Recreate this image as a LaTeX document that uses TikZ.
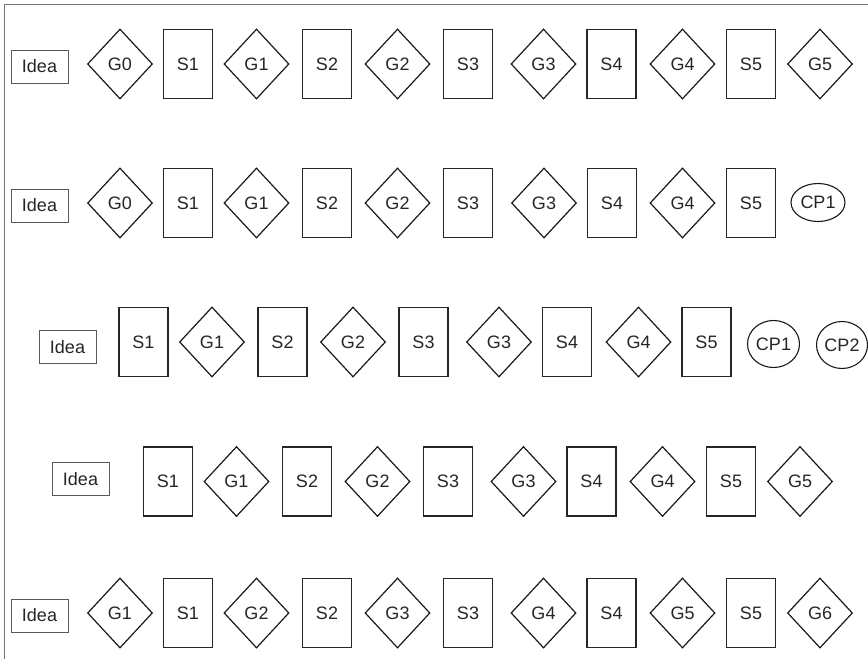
\documentclass[tikz,border=0pt]{standalone}
\usepackage{fontspec}
\setmainfont{Liberation Sans}
\usetikzlibrary{shapes.geometric}
\tikzset{
  stepbox/.style={draw=black!85, line width=1.2pt, rectangle, minimum width=49pt, minimum height=69pt, inner sep=0pt, font=\fontsize{18}{20}\selectfont, text=black!85},
  gate/.style={draw=black!90, line width=1.2pt, diamond, minimum width=65pt, minimum height=70pt, inner sep=0pt, font=\fontsize{18}{20}\selectfont, text=black!85},
  ideabox/.style={draw=black!65, line width=0.8pt, rectangle, minimum width=57pt, minimum height=33pt, inner sep=0pt, font=\fontsize{18}{20}\selectfont, text=black!85},
  cp/.style={draw=black!90, line width=1.1pt, ellipse, inner sep=0pt, font=\fontsize{18}{20}\selectfont, text=black!85},
  frameline/.style={draw=black!55, line width=1pt}
}
\begin{document}
\begin{tikzpicture}[x=1pt,y=-1pt]
\useasboundingbox (0,0) rectangle (868,659);
\coordinate (ftr) at (868,4);
\coordinate (ftl) at (4,4);
\coordinate (fbl) at (4,659);
\draw[frameline] (ftr) -- (ftl) -- (fbl);
% Row 1
\node[ideabox] (r1idea) at (39.5,66.5) {Idea};
\node[gate] (r1g0) at (120,64) {G0};
\node[stepbox] (r1s1) at (188,64) {S1};
\node[gate] (r1g1) at (256.5,64) {G1};
\node[stepbox] (r1s2) at (327,64) {S2};
\node[gate] (r1g2) at (397.5,64) {G2};
\node[stepbox] (r1s3) at (468,64) {S3};
\node[gate] (r1g3) at (543.5,64) {G3};
\node[stepbox] (r1s4) at (611.5,64) {S4};
\node[gate] (r1g4) at (682.5,64) {G4};
\node[stepbox] (r1s5) at (751,64) {S5};
\node[gate] (r1g5) at (820,64) {G5};
% Row 2
\node[ideabox] (r2idea) at (39.5,205.5) {Idea};
\node[gate] (r2g0) at (120,203) {G0};
\node[stepbox] (r2s1) at (188,203) {S1};
\node[gate] (r2g1) at (256.5,203) {G1};
\node[stepbox] (r2s2) at (327,203) {S2};
\node[gate] (r2g2) at (397.5,203) {G2};
\node[stepbox] (r2s3) at (468,203) {S3};
\node[gate] (r2g3) at (544,203) {G3};
\node[stepbox] (r2s4) at (612,203) {S4};
\node[gate] (r2g4) at (682.5,203) {G4};
\node[stepbox] (r2s5) at (751,203) {S5};
\node[cp, minimum width=54pt, minimum height=38pt] (r2cp1) at (818,202.5) {CP1};
% Row 3
\node[ideabox] (r3idea) at (67.5,347) {Idea};
\node[stepbox] (r3s1) at (143.5,342) {S1};
\node[gate] (r3g1) at (212,342) {G1};
\node[stepbox] (r3s2) at (282.5,342) {S2};
\node[gate] (r3g2) at (353,342) {G2};
\node[stepbox] (r3s3) at (423.5,342) {S3};
\node[gate] (r3g3) at (499,342) {G3};
\node[stepbox] (r3s4) at (567,342) {S4};
\node[gate] (r3g4) at (638.5,342) {G4};
\node[stepbox] (r3s5) at (706.5,342) {S5};
\node[cp, minimum width=52pt, minimum height=47pt] (r3cp1) at (773.5,344) {CP1};
\node[cp, minimum width=51pt, minimum height=47pt] (r3cp2) at (842,345) {CP2};
% Row 4
\node[ideabox] (r4idea) at (80.5,479) {Idea};
\node[stepbox] (r4s1) at (168,481.5) {S1};
\node[gate] (r4g1) at (236.5,481.5) {G1};
\node[stepbox] (r4s2) at (307,481.5) {S2};
\node[gate] (r4g2) at (377.5,481.5) {G2};
\node[stepbox] (r4s3) at (448,481.5) {S3};
\node[gate] (r4g3) at (523.5,481.5) {G3};
\node[stepbox] (r4s4) at (591.5,481.5) {S4};
\node[gate] (r4g4) at (662.5,481.5) {G4};
\node[stepbox] (r4s5) at (731,481.5) {S5};
\node[gate] (r4g5) at (800,481.5) {G5};
% Row 5
\node[ideabox] (r5idea) at (39.5,615.5) {Idea};
\node[gate] (r5g1) at (120,613) {G1};
\node[stepbox] (r5s1) at (188,613) {S1};
\node[gate] (r5g2) at (256.5,613) {G2};
\node[stepbox] (r5s2) at (327,613) {S2};
\node[gate] (r5g3) at (397.5,613) {G3};
\node[stepbox] (r5s3) at (468,613) {S3};
\node[gate] (r5g4) at (543.5,613) {G4};
\node[stepbox] (r5s4) at (611.5,613) {S4};
\node[gate] (r5g5) at (682.5,613) {G5};
\node[stepbox] (r5s5) at (751,613) {S5};
\node[gate] (r5g6) at (820,613) {G6};
\end{tikzpicture}
\end{document}
